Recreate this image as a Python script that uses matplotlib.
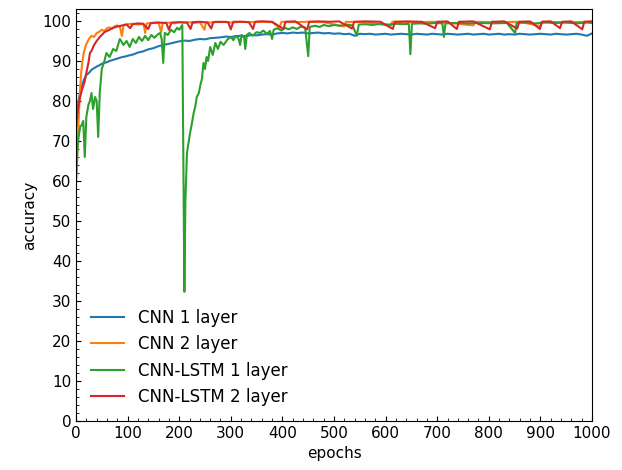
import numpy as np
import matplotlib.pyplot as plt
from matplotlib.ticker import MultipleLocator

# valores (epoch, accuracy)
cnn1_ep = [0, 2, 4, 6, 8, 10, 13, 16, 20, 25, 30, 35, 40, 45, 50, 55, 60, 65, 70, 75, 80, 85, 90, 95] + list(range(100, 1001, 10))
cnn1_acc = [72.0, 76.0, 79.0, 81.0, 82.0, 83.0, 84.5, 85.5, 86.5, 87.0, 87.8, 88.2, 88.6, 88.9, 89.3, 89.5, 89.7, 90.0, 90.2, 90.4, 90.6, 90.8, 91.0, 91.1,
            91.3, 91.6, 92.1, 92.4, 92.9, 93.2, 93.7, 94.0, 94.3, 94.6,
            94.9, 95.1, 95.0, 95.3, 95.5, 95.4, 95.7, 95.8, 95.9, 96.1,
            96.0, 96.2, 96.3, 96.2, 96.5, 96.4, 96.6, 96.7, 96.6, 96.9,
            97.0, 96.9, 97.1, 97.0, 97.1, 96.9, 97.0, 97.1, 96.9, 97.0,
            96.8, 96.9, 96.7, 96.8, 96.3, 96.8, 96.7, 96.8, 96.6, 96.7,
            96.8, 96.6, 96.7, 96.8, 96.7, 96.6, 96.8, 96.7, 96.6, 96.8,
            96.7, 96.6, 96.8, 96.7, 96.6, 96.7, 96.8, 96.6, 96.7, 96.8,
            96.6, 96.7, 96.8, 96.6, 96.7, 96.6, 96.8, 96.7, 96.6, 96.7,
            96.8, 96.7, 96.6, 96.8, 96.7, 96.6, 96.7, 96.8, 96.6, 96.3, 96.9]

cnn2_ep = [0, 2, 4, 6, 8, 10, 12, 15, 18, 21, 25, 30, 35, 40, 45, 50, 55, 60, 65, 70, 75, 80, 85, 89, 92, 95,
           100, 110, 120, 131, 134, 137, 150, 160, 165, 168, 180, 190, 200, 210, 220, 230, 240, 249, 252, 260, 270,
           280, 290, 300, 320, 340, 360, 380, 395, 398, 420, 450, 480, 520, 523, 560, 610, 613, 650, 700, 770, 773,
           820, 860, 900, 903, 950, 1000]
cnn2_acc = [60.0, 66.0, 72.0, 78.0, 83.0, 87.0, 89.5, 92.0, 93.5, 94.5, 95.5, 96.3, 96.0, 97.0, 97.3, 97.8, 97.5, 98.2, 98.4, 98.1, 98.7, 98.9, 98.6, 96.2, 98.9, 99.1,
            99.2, 99.3, 99.1, 99.3, 97.0, 99.4, 99.5, 99.6, 97.2, 99.5, 99.6, 99.4, 99.7, 99.6, 99.7, 99.5, 99.7, 97.8, 99.7, 99.6, 99.8,
            99.7, 99.8, 99.6, 99.8, 99.7, 99.8, 99.7, 98.3, 99.8, 99.7, 99.8, 99.7, 98.6, 99.8, 99.7, 98.8, 99.8, 99.7, 99.8, 98.9, 99.8,
            99.7, 99.8, 98.7, 99.8, 99.7, 99.8]

lstm1_ep = [0, 3, 5, 8, 11, 14, 17, 20, 24, 27, 30, 33, 37, 40, 43, 46, 50, 55, 59, 65, 72, 78, 85, 92, 98,
            104, 110, 116, 122, 128, 134, 140, 146, 152, 158, 163, 166, 169, 172, 178, 184, 190, 196, 200, 206,
            210, 212, 215, 218, 221, 224, 228, 231, 234, 238, 241, 244, 247, 250, 253, 256, 260, 265, 270, 275,
            280, 286, 293, 300, 305, 310, 315, 318, 321, 326, 328, 331, 336, 342, 350, 357, 363, 370, 376, 380,
            383, 390, 398, 405, 412, 420, 428, 436, 444, 450, 453, 456, 464, 472, 480, 490, 500, 512, 524, 536,
            544, 548, 560, 575, 590, 605, 620, 635, 645, 648, 651, 665, 680, 695, 710, 713, 716, 735, 760, 785,
            810, 835, 851, 854, 870, 890, 910, 930, 950, 970, 990, 1000]
lstm1_acc = [60.0, 68.0, 71.0, 73.5, 74.0, 75.0, 66.0, 76.0, 79.0, 80.0, 82.0, 78.0, 81.0, 80.0, 71.0, 82.0, 88.0, 90.0, 92.0, 91.0, 93.0, 92.5, 95.5, 94.0, 95.0,
             93.5, 95.5, 94.5, 96.0, 95.0, 96.3, 95.2, 96.5, 95.8, 96.6, 97.0, 95.5, 89.5, 97.0, 96.5, 97.8, 97.2, 98.3, 97.8, 99.0,
             32.3, 55.0, 67.0, 69.5, 72.0, 74.0, 77.0, 78.5, 81.0, 82.0, 84.0, 85.5, 89.5, 88.0, 91.0, 90.0, 93.5, 91.5, 94.5, 93.0,
             94.8, 94.0, 95.3, 96.0, 95.2, 96.3, 95.6, 94.0, 96.5, 95.8, 93.0, 96.5, 97.0, 96.3, 97.2, 97.0, 97.6, 96.8, 97.5, 95.5,
             97.8, 98.2, 97.6, 98.3, 97.9, 98.4, 98.0, 98.6, 98.3, 91.2, 98.5, 98.6, 98.8, 98.5, 99.0, 98.7, 99.0, 98.8, 99.1, 98.9,
             96.3, 99.1, 99.2, 99.0, 99.3, 99.1, 99.3, 99.2, 99.3, 91.7, 99.3, 99.4, 99.3, 99.5, 99.4, 96.0, 99.4, 99.5, 99.4, 99.5,
             99.4, 99.5, 97.0, 99.5, 99.6, 99.4, 99.6, 99.5, 99.6, 99.4, 99.6, 99.5]

lstm2_ep = [0, 2, 4, 6, 8, 10, 12, 14, 17, 20, 24, 27, 30, 35, 40, 46, 50, 55, 60, 65, 72, 80, 90, 98,
            105, 110, 120, 130, 140, 145, 160, 175, 180, 185, 200, 215, 222, 226, 240, 255, 262, 266, 280, 295,
            300, 305, 320, 335, 343, 347, 360, 380, 402, 406, 425, 448, 452, 470, 490, 510, 535, 539, 560, 590,
            614, 618, 640, 670, 696, 700, 720, 738, 742, 770, 802, 806, 830, 855, 859, 880, 899, 903, 920, 938,
            942, 960, 981, 985, 1000]
lstm2_acc = [73.5, 76.0, 78.0, 79.5, 81.0, 82.0, 83.0, 83.7, 85.0, 87.0, 89.5, 92.0, 92.5, 94.0, 95.0, 96.0, 96.5, 97.2, 97.5, 97.8, 98.3, 98.6, 98.9, 99.1,
             98.2, 99.2, 99.4, 99.3, 98.0, 99.5, 99.6, 99.5, 97.8, 99.6, 99.7, 99.6, 98.0, 99.7, 99.8, 99.6, 98.1, 99.7, 99.8, 99.7,
             97.9, 99.8, 99.8, 99.7, 98.0, 99.8, 99.9, 99.8, 98.0, 99.8, 99.9, 97.9, 99.8, 99.9, 99.8, 99.9, 98.1, 99.8, 99.9, 99.8,
             98.0, 99.8, 99.9, 99.8, 98.2, 99.8, 99.9, 98.0, 99.8, 99.9, 97.9, 99.8, 99.9, 98.1, 99.8, 99.9, 98.0, 99.8, 99.9, 98.2,
             99.8, 99.9, 97.9, 99.8, 99.9]

fig = plt.figure(figsize=(6.22, 4.70), dpi=100)
ax = fig.add_axes([0.1222, 0.1043, 0.8296, 0.8766])

ax.plot(cnn1_ep, cnn1_acc, color='C0', lw=1.5, label='CNN 1 layer')
ax.plot(cnn2_ep, cnn2_acc, color='C1', lw=1.5, label='CNN 2 layer')
ax.plot(lstm1_ep, lstm1_acc, color='C2', lw=1.5, label='CNN-LSTM 1 layer')
ax.plot(lstm2_ep, lstm2_acc, color='C3', lw=1.5, label='CNN-LSTM 2 layer')

ax.set_xlim(0, 1000)
ax.set_ylim(0, 103)
ax.xaxis.set_major_locator(MultipleLocator(100))
ax.xaxis.set_minor_locator(MultipleLocator(20))
ax.yaxis.set_major_locator(MultipleLocator(10))
ax.yaxis.set_minor_locator(MultipleLocator(2))
ax.tick_params(which='both', direction='in')
ax.tick_params(axis='both', labelsize=11)

ax.set_xlabel('epochs', fontsize=11)
ax.set_ylabel('accuracy', fontsize=11)
ax.legend(loc='lower left', frameon=False, fontsize=12)

fig.savefig('out.png')
